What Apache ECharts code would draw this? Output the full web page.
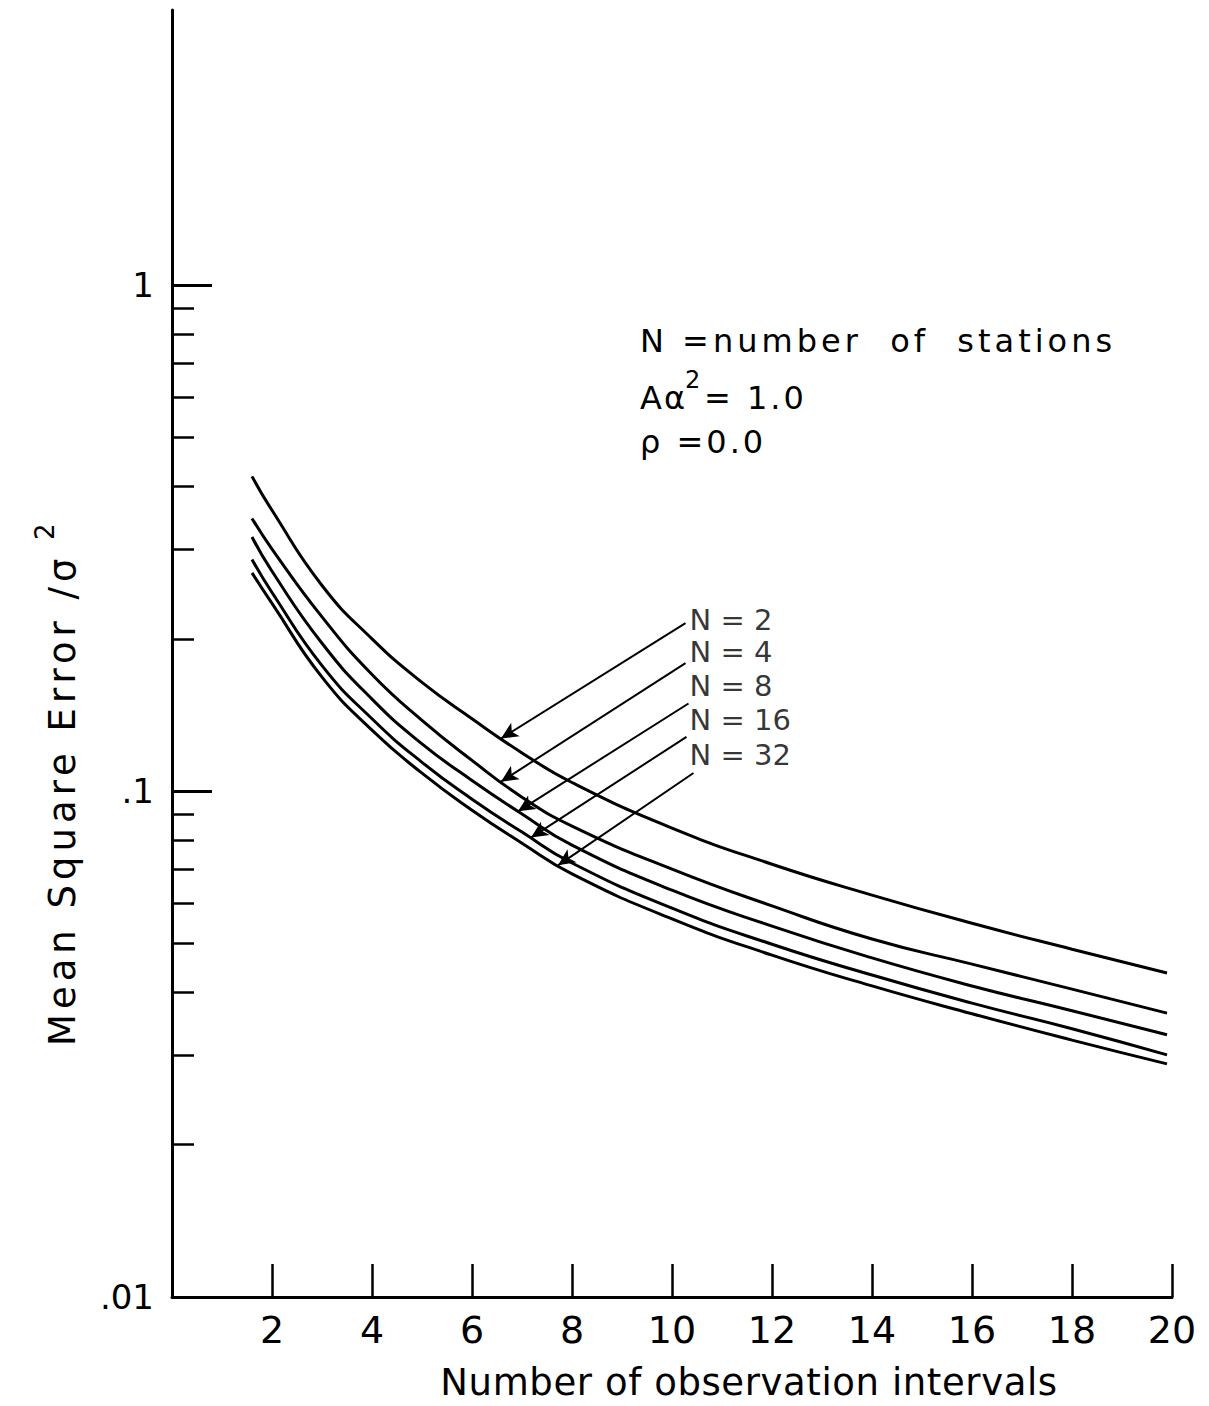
<!DOCTYPE html>
<html>
<head>
<meta charset="utf-8">
<script src="https://cdn.jsdelivr.net/npm/echarts@6/dist/echarts.min.js"></script>
<style>
  html, body { margin: 0; padding: 0; background: #fff; }
  #chart { width: 1209px; height: 1406px; }
</style>
</head>
<body>
<div id="chart"></div>
<script>
// Mean square error (normalised by sigma^2) against number of observation intervals,
// one curve per number of stations N, with A*alpha^2 = 1.0 and rho = 0.0.
const observationIntervals = [1.6, 2, 3, 4, 5, 6, 7, 8, 10, 12, 14, 16, 18, 19.9];
const mseN2  = [0.419, 0.359, 0.255, 0.200, 0.164, 0.139, 0.119, 0.104, 0.0845, 0.0717, 0.0623, 0.0548, 0.0487, 0.0437];
const mseN4  = [0.346, 0.301, 0.221, 0.170, 0.138, 0.115, 0.0973, 0.0853, 0.0701, 0.0593, 0.0510, 0.0455, 0.0406, 0.0364];
const mseN8  = [0.318, 0.272, 0.196, 0.152, 0.124, 0.105, 0.0901, 0.0782, 0.0637, 0.0541, 0.0468, 0.0412, 0.0368, 0.0330];
const mseN16 = [0.287, 0.247, 0.177, 0.139, 0.114, 0.0964, 0.0830, 0.0721, 0.0587, 0.0498, 0.0433, 0.0381, 0.0339, 0.0301];
const mseN32 = [0.270, 0.235, 0.168, 0.132, 0.1085, 0.0917, 0.0789, 0.0686, 0.0559, 0.0474, 0.0412, 0.0363, 0.0322, 0.0289];

const stationCurves = [mseN2, mseN4, mseN8, mseN16, mseN32];
const stationLabels = ['N = 2', 'N = 4', 'N = 8', 'N = 16', 'N = 32'];

// Tick values
const xTickValues = [2, 4, 6, 8, 10, 12, 14, 16, 18, 20];
const yMajorTicks = [0.01, 0.1, 1];
const yMinorTicks = [0.02, 0.03, 0.04, 0.05, 0.06, 0.07, 0.08, 0.09,
                     0.2, 0.3, 0.4, 0.5, 0.6, 0.7, 0.8, 0.9];

// Leader labels (data coordinates) and the x where each arrow meets its curve
const labelX = 10.35;
const labelY = [0.2178, 0.1883, 0.1613, 0.138, 0.1178];
const arrowTailX = [10.27, 10.27, 10.33, 10.29, 10.43];
const arrowTailY = [0.2148, 0.179, 0.149, 0.128, 0.1086];
const arrowTipX = [6.58, 6.58, 6.92, 7.18, 7.72];

const FONT = '"DejaVu Sans", "Liberation Sans", sans-serif';

// value of a curve at x, interpolated on the log scale between read points
function curveAt(values, x) {
  for (let i = 0; i < observationIntervals.length - 1; i++) {
    const x0 = observationIntervals[i], x1 = observationIntervals[i + 1];
    if (x >= x0 && x <= x1) {
      const t = (x - x0) / (x1 - x0);
      const l = Math.log10(values[i]) * (1 - t) + Math.log10(values[i + 1]) * t;
      return Math.pow(10, l);
    }
  }
  return values[values.length - 1];
}

const curveSeries = stationCurves.map((vals, i) => ({
  name: stationLabels[i],
  type: 'line',
  xAxisIndex: 0,
  yAxisIndex: 0,
  smooth: 0.5,
  symbol: 'none',
  lineStyle: { color: '#000', width: 3 },
  data: observationIntervals.map((x, j) => [x, vals[j]]),
  z: 3
}));

const arrowLines = stationCurves.map((vals, i) => [
  { coord: [arrowTailX[i], arrowTailY[i]] },
  { coord: [arrowTipX[i], curveAt(vals, arrowTipX[i])] }
]);

const labelSeries = {
  type: 'scatter',
  xAxisIndex: 0,
  yAxisIndex: 0,
  symbolSize: 0,
  silent: true,
  data: stationLabels.map((t, i) => [labelX, labelY[i], t]),
  label: {
    show: true,
    position: 'right',
    distance: 0,
    formatter: p => p.data[2],
    color: '#000',
    fontSize: 29,
    fontFamily: FONT
  },
  markLine: {
    silent: true,
    symbol: ['none', 'arrow'],
    symbolSize: [12, 17],
    lineStyle: { color: '#000', width: 2, type: 'solid' },
    label: { show: false },
    emphasis: { disabled: true },
    data: arrowLines
  },
  z: 4
};

function fmtLog(v) {
  const r = +(+v).toPrecision(2);
  return r >= 1 ? String(r) : String(r).replace(/^0/, '');
}

const txt = (x, y, text, size, extra) => Object.assign({
  type: 'text', x, y, silent: true,
  style: Object.assign({
    text, fill: '#000', fontSize: size, fontFamily: FONT,
    textAlign: 'left', textVerticalAlign: 'middle', align: 'left', verticalAlign: 'middle'
  }, (extra && extra.style) || {})
}, extra ? { rotation: extra.rotation || 0 } : {});

const option = {
  animation: false,
  backgroundColor: '#fff',
  grid: { left: 172, right: 37, top: 10, bottom: 109 },
  xAxis: {
    type: 'value',
    min: 0, max: 20,
    axisLine: { show: true, lineStyle: { color: '#000', width: 3 } },
    axisTick: { show: true, inside: true, length: 33, customValues: xTickValues,
                lineStyle: { color: '#000', width: 2.5 } },
    axisLabel: { customValues: xTickValues, color: '#000', fontSize: 38, fontFamily: FONT, margin: 14 },
    splitLine: { show: false }
  },
  yAxis: [
    {
      type: 'log', logBase: 10,
      min: 0.01, max: 3.5,
      position: 'left',
      axisLine: { show: true, lineStyle: { color: '#000', width: 3 } },
      axisTick: { show: true, inside: true, length: 40, customValues: yMajorTicks,
                  lineStyle: { color: '#000', width: 3 } },
      axisLabel: { customValues: yMajorTicks, formatter: fmtLog, color: '#000',
                   fontSize: 34, fontFamily: FONT, margin: 18 },
      splitLine: { show: false }
    },
    {
      type: 'log', logBase: 10,
      min: 0.01, max: 3.5,
      position: 'left',
      axisLine: { show: false },
      axisTick: { show: true, inside: true, length: 22, customValues: yMinorTicks,
                  lineStyle: { color: '#000', width: 2.5 } },
      axisLabel: { show: false },
      splitLine: { show: false }
    }
  ],
  series: curveSeries.concat([labelSeries]),
  graphic: [
    txt(640, 341, 'N =number  of  stations', 32),
    txt(640, 398, 'Aα', 32),
    txt(685, 380, '2', 24),
    txt(704, 398, '= 1.0', 32),
    txt(640, 442, 'ρ =0.0', 32),
    txt(749, 1382, 'Number of observation intervals', 37, { style: { textAlign: 'center', align: 'center' } }),
    txt(62, 1046, 'Mean Square Error /σ', 37, { rotation: Math.PI / 2 }),
    txt(45, 540, '2', 26, { rotation: Math.PI / 2 })
  ]
};

const chart = echarts.init(document.getElementById('chart'), null, { renderer: 'svg' });
chart.setOption(option);

// wide lettering for the hand-lettered captions
const letterSpacing = {
  'N =number  of  stations': 4,
  'Aα': 2,
  '= 1.0': 3,
  'ρ =0.0': 3,
  'Mean Square Error /σ': 5,
  'Number of observation intervals': 0.6
};
function applySpacing() {
  document.querySelectorAll('#chart svg text').forEach(t => {
    const s = letterSpacing[t.textContent];
    if (s !== undefined) t.setAttribute('letter-spacing', s);
  });
}
chart.getZr().refreshImmediately();
applySpacing();
chart.on('finished', applySpacing);
</script>
</body>
</html>
